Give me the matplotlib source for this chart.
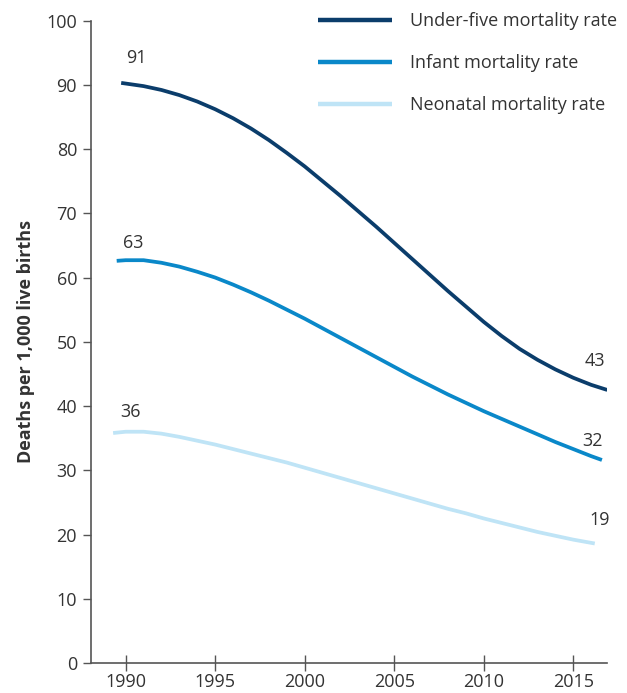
import matplotlib
matplotlib.use("Agg")
import matplotlib.pyplot as plt

plt.rcParams['font.family'] = ['Open Sans', 'DejaVu Sans']

# values (deaths per 1,000 live births)
u5_years = [1989.75, 1990, 1991, 1992, 1993, 1994, 1995, 1996, 1997, 1998, 1999, 2000,
            2001, 2002, 2003, 2004, 2005, 2006, 2007, 2008, 2009, 2010, 2011, 2012,
            2013, 2014, 2015, 2016, 2016.9]
u5_rate = [90.3, 90.2, 89.8, 89.2, 88.4, 87.4, 86.2, 84.8, 83.2, 81.4, 79.4, 77.3,
           75.0, 72.7, 70.3, 67.9, 65.4, 62.9, 60.4, 57.9, 55.5, 53.1, 50.9, 48.9,
           47.2, 45.7, 44.4, 43.3, 42.5]

inf_years = [1989.5, 1990, 1991, 1992, 1993, 1994, 1995, 1996, 1997, 1998, 1999, 2000,
             2001, 2002, 2003, 2004, 2005, 2006, 2007, 2008, 2009, 2010, 2011, 2012,
             2013, 2014, 2015, 2016, 2016.6]
inf_rate = [62.6, 62.7, 62.7, 62.3, 61.7, 60.9, 60.0, 58.9, 57.7, 56.4, 55.0, 53.6,
            52.1, 50.6, 49.1, 47.6, 46.1, 44.6, 43.2, 41.8, 40.5, 39.2, 38.0, 36.8,
            35.6, 34.4, 33.3, 32.2, 31.6]

neo_years = [1989.3, 1990, 1991, 1992, 1993, 1994, 1995, 1996, 1997, 1998, 1999, 2000,
             2001, 2002, 2003, 2004, 2005, 2006, 2007, 2008, 2009, 2010, 2011, 2012,
             2013, 2014, 2015, 2016.2]
neo_rate = [35.8, 36.0, 36.0, 35.7, 35.2, 34.6, 34.0, 33.3, 32.6, 31.9, 31.2, 30.4,
            29.6, 28.8, 28.0, 27.2, 26.4, 25.6, 24.8, 24.0, 23.3, 22.5, 21.8, 21.1,
            20.4, 19.8, 19.2, 18.6]

series_names = ['Under-five mortality rate', 'Infant mortality rate', 'Neonatal mortality rate']
colors = ['#0b3d6b', '#0a88c9', '#bfe4f6']
start_labels = ['91', '63', '36']
end_labels = ['43', '32', '19']

text_col = '#333333'
axis_col = '#555555'

fig = plt.figure(figsize=(6.27, 6.93), dpi=100)
ax = fig.add_axes([0.145, 0.0433, 0.823, 0.927])

ax.plot(u5_years, u5_rate, color=colors[0], lw=2.7, label=series_names[0], solid_capstyle='butt')
ax.plot(inf_years, inf_rate, color=colors[1], lw=2.7, label=series_names[1], solid_capstyle='butt')
ax.plot(neo_years, neo_rate, color=colors[2], lw=2.7, label=series_names[2], solid_capstyle='butt')

fs = 13
# value labels at the start and end of each line
ax.text(1990.6, 94.2, start_labels[0], ha='center', va='center', fontsize=fs, color=text_col)
ax.text(1990.4, 65.4, start_labels[1], ha='center', va='center', fontsize=fs, color=text_col)
ax.text(1990.25, 39.1, start_labels[2], ha='center', va='center', fontsize=fs, color=text_col)
ax.text(2016.2, 47.0, end_labels[0], ha='center', va='center', fontsize=fs, color=text_col)
ax.text(2016.1, 34.6, end_labels[1], ha='center', va='center', fontsize=fs, color=text_col)
ax.text(2016.5, 22.2, end_labels[2], ha='center', va='center', fontsize=fs, color=text_col)

ax.set_xlim(1988.06, 2016.88)
ax.set_ylim(0, 100)
ax.set_xticks([1990, 1995, 2000, 2005, 2010, 2015])
ax.set_yticks(range(0, 101, 10))

for s in ['top', 'right']:
    ax.spines[s].set_visible(False)
for s in ['left', 'bottom']:
    ax.spines[s].set_color(axis_col)
    ax.spines[s].set_linewidth(1.2)

ax.tick_params(axis='y', direction='out', length=6, width=1, color=axis_col,
               labelsize=fs, labelcolor=text_col, pad=4)
ax.tick_params(axis='x', direction='inout', length=11, width=1, color=axis_col,
               labelsize=fs, labelcolor=text_col, pad=2)

ax.set_ylabel('Deaths per 1,000 live births', fontsize=fs, fontweight='bold',
              color=text_col, labelpad=8)

leg = ax.legend(loc='upper left', bbox_to_anchor=(0.426, 1.024), frameon=False,
                fontsize=fs, handlelength=4.1, handletextpad=1.0, labelspacing=1.33,
                borderaxespad=0)
for t in leg.get_texts():
    t.set_color(text_col)
for h in leg.get_lines():
    h.set_linewidth(3.2)

fig.savefig('out.png', dpi=100)
